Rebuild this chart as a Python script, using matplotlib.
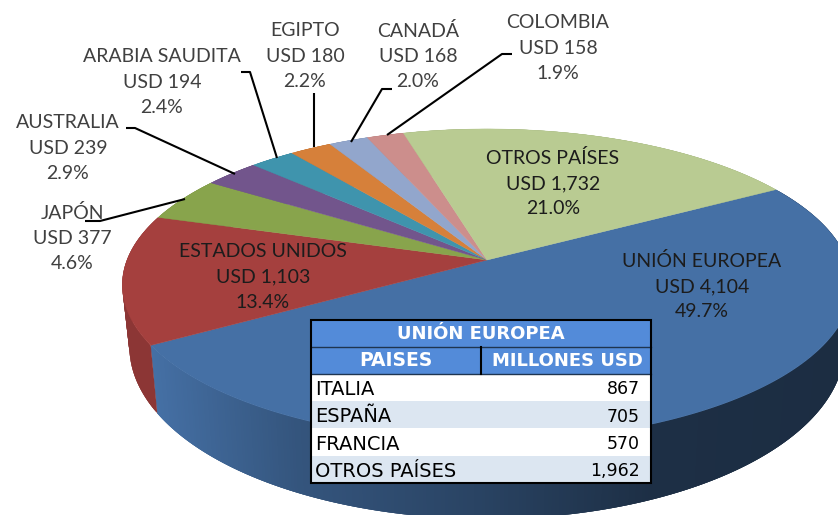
"""
Pie 3D de exportaciones por destino, con tabla de la Union Europea
"""
import numpy as np
import matplotlib.pyplot as plt
from matplotlib.patches import Polygon, Rectangle

# Data
paises = ["UNIÓN EUROPEA", "ESTADOS UNIDOS", "JAPÓN", "AUSTRALIA", "ARABIA SAUDITA",
          "EGIPTO", "CANADÁ", "COLOMBIA", "OTROS PAÍSES"]
usd = [4104, 1103, 377, 239, 194, 180, 168, 158, 1732]
pct = [49.7, 13.4, 4.6, 2.9, 2.4, 2.2, 2.0, 1.9, 21.0]
colores = ["#4570A5", "#A5403E", "#88A44C", "#72558C", "#3F94AD",
           "#D6803A", "#92A6CC", "#CC8E8C", "#B9CB92"]

tabla_titulo = "UNIÓN EUROPEA"
tabla_cols = ["PAISES", "MILLONES USD"]
tabla_paises = ["ITALIA", "ESPAÑA", "FRANCIA", "OTROS PAÍSES"]
tabla_usd = ["867", "705", "570", "1,962"]

# Layout (pixels of the picture)
START = 30.0
CX = 487
TOP = dict(y0=260, a=360, b=152)
BOT = dict(y0=319, a=353, b=168)
K = 0.16
label_pos = [(702, 286), (263, 277), (72, 238), (68, 148), (162, 82),
             (305, 56), (418, 56), (558, 48), (553, 183)]
leaders = {
    "COLOMBIA": [(512, 54), (502, 54), (387, 135)],
    "CANADÁ": [(392, 89), (382, 89), (351, 142)],
    "EGIPTO": [(314, 93), (314, 147)],
    "ARABIA SAUDITA": [(241, 72), (250, 72), (277, 158)],
    "AUSTRALIA": [(126, 128), (135, 128), (235, 174)],
    "JAPÓN": [(85, 221), (100, 221), (185, 199)],
}


def project(theta, y0, a, b):
    # circle seen in perspective, far side shrinks
    t = np.radians(theta)
    u, v = np.cos(t), np.sin(t)
    w = 1 + K * v
    return CX + a * u / w, y0 - b * v / w


def side_shade(x, i):
    if i == 0:
        return np.interp(x, [158, 300, 480, 650, 838], [1.0, 0.76, 0.6, 0.42, 0.4])
    return 0.85


fig, ax = plt.subplots(figsize=(8.38, 5.15), dpi=100)
fig.subplots_adjust(0, 0, 1, 1)
ax.set_xlim(0, 838)
ax.set_ylim(515, 0)
ax.axis("off")

total = sum(usd)
angulos = START - np.cumsum([0] + usd) / total * 360

# walls first, then the top face
# each strip overlaps the next one so no seams show
for i, color in enumerate(colores):
    rgb = np.array(plt.matplotlib.colors.to_rgb(color))
    th = np.linspace(angulos[i], angulos[i + 1], max(3, int(abs(angulos[i + 1] - angulos[i]) * 2)))
    x1, y1 = project(th, **TOP)
    x2, y2 = project(th, **BOT)
    for j in range(len(th) - 1):
        k = min(j + 3, len(th) - 1)
        pts = [(x1[j], y1[j]), (x1[k], y1[k]), (x2[k], y2[k]), (x2[j], y2[j])]
        c = rgb * side_shade(x2[j], i)
        ax.add_patch(Polygon(pts, facecolor=c, edgecolor="none", zorder=1))

for i, color in enumerate(colores):
    th = np.linspace(angulos[i], angulos[i + 1], 200)
    x, y = project(th, **TOP)
    pts = [(CX, TOP["y0"])] + list(zip(x, y))
    ax.add_patch(Polygon(pts, facecolor=color, edgecolor=color, lw=0.3, zorder=2))

# Labels
for i, nombre in enumerate(paises):
    dentro = nombre in ("UNIÓN EUROPEA", "ESTADOS UNIDOS", "OTROS PAÍSES")
    ax.text(label_pos[i][0], label_pos[i][1], f"{nombre}\nUSD {usd[i]:,}\n{pct[i]:.1f}%",
            ha="center", va="center", ma="center", family="Lato", fontsize=14,
            linespacing=1.58, color="#1c1c1c" if dentro else "#404040", zorder=5)

for pts in leaders.values():
    xs, ys = zip(*pts)
    ax.plot(xs, ys, color="black", lw=1.5, zorder=4, solid_capstyle="butt")

# Table
x0, x1, xm = 311, 651, 481
filas = [320, 347, 374, 401, 428, 456, 483]
azul = "#538BD9"
ax.add_patch(Rectangle((x0, filas[0]), x1 - x0, filas[2] - filas[0], fc=azul, ec="none", zorder=6))
for r in range(4):
    fc = "white" if r % 2 == 0 else "#DCE6F1"
    ax.add_patch(Rectangle((x0, filas[r + 2]), x1 - x0, filas[r + 3] - filas[r + 2], fc=fc, ec="none", zorder=6))
ax.add_patch(Rectangle((x0, filas[0]), x1 - x0, filas[-1] - filas[0], fc="none", ec="black", lw=1.5, zorder=8))
ax.plot([x0, x1], [filas[1], filas[1]], color="#1f3550", lw=1, zorder=7)
ax.plot([x0, x1], [filas[2], filas[2]], color="#1f3550", lw=1, zorder=7)
ax.plot([xm, xm], [filas[1], filas[2]], color="black", lw=1.5, zorder=7)

tfont = dict(family=["DejaVu Sans"], zorder=9, va="center")
ax.text((x0 + x1) / 2, 334, tabla_titulo, ha="center", color="white", weight="bold", fontsize=13, **tfont)
ax.text(396, 361, tabla_cols[0], ha="center", color="white", weight="bold", fontsize=13.5, **tfont)
ax.text(567, 361, tabla_cols[1], ha="center", color="white", weight="bold", fontsize=13, **tfont)
for r in range(4):
    ym = (filas[r + 2] + filas[r + 3]) / 2 + 2
    ax.text(315, ym, tabla_paises[r], ha="left", color="black", fontsize=14, **tfont)
    ax.text(640, ym, tabla_usd[r], ha="right", color="black", fontsize=12.5, **tfont)

plt.savefig("out.png", dpi=100)
